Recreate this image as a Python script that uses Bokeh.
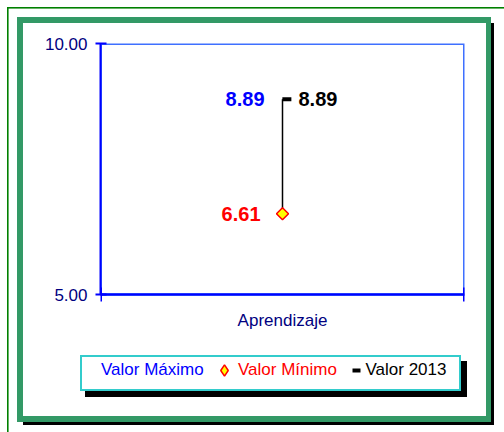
from bokeh.plotting import figure
from bokeh.models import (Range1d, FactorRange, LinearAxis, FixedTicker, PrintfTickFormatter,
                          Legend, LegendItem, ColumnDataSource, BoxAnnotation, Span)
from bokeh.transform import dodge
from bokeh.core.properties import value
from bokeh.embed import file_html
from bokeh.resources import INLINE

# ---- data ----
categories = ["Aprendizaje"]
valor_maximo = [8.89]
valor_minimo = [6.61]
valor_2013 = [8.89]
y_ticks = [5, 10]
y_limits = (5, 10)
series_names = ["Valor Máximo", "Valor Mínimo", "Valor 2013"]

FONT = "Liberation Sans"
NAVY = "#000080"
AXIS_BLUE = "#0000ff"
BLUE = "#0000ff"
RED = "#ff0000"
SEA = "#339966"
TURQ = "#33cccc"

# layout (pixels)
W, H = 504, 432
PLOT_TOP, PLOT_BOTTOM = 43, 294      # where y_limits map
FRAME_BOTTOM = 395                   # frame extended to hold the legend row
FRAME_LEFT, FRAME_RIGHT = 100, 464
px_per_unit = (PLOT_BOTTOM - PLOT_TOP) / (y_limits[1] - y_limits[0])
y_start = y_limits[0] - (FRAME_BOTTOM - PLOT_BOTTOM) / px_per_unit
tick_len = 7 / px_per_unit

src = ColumnDataSource(dict(
    cat=categories, vmax=valor_maximo, vmin=valor_minimo, v2013=valor_2013,
    base=[y_limits[0]] * len(categories),
    tick_lo=[y_limits[0] - tick_len] * len(categories),
    tick_hi=[y_limits[0] + tick_len] * len(categories),
    tmax=[f"{v:.2f}" for v in valor_maximo],
    tmin=[f"{v:.2f}" for v in valor_minimo],
    t2013=[f"{v:.2f}" for v in valor_2013],
))


def rect(color, x, y, w, h):
    return f"linear-gradient({color},{color}) {x}px {y}px / {w}px {h}px no-repeat"


LX = 19  # legend shift so that it sits inside the drawing frame
layers = [
    rect("#ffffff", 63 + LX, 357, 377, 32),      # legend interior
    rect(TURQ, 61 + LX, 355, 381, 36),           # legend border
    rect("#000000", 66 + LX, 361, 382, 36),      # legend shadow
    rect("#ffffff", 23, 23, 463, 393),           # frame interior
    rect(SEA, 17, 17, 474, 405),                 # thick green frame
    rect("#000000", 23, 23, 471, 402),           # frame shadow
    rect("#008000", 7, 7, 497, 1.6),             # thin outer line (top)
    rect("#008000", 7, 7, 1.6, 425),             # thin outer line (left)
]

p = figure(width=W, height=H, x_range=FactorRange(factors=categories),
           y_range=Range1d(y_start, y_limits[1]), output_backend="svg", toolbar_location=None,
           x_axis_location=None, y_axis_location=None,
           min_border_left=FRAME_LEFT, min_border_right=W - FRAME_RIGHT,
           min_border_top=PLOT_TOP, min_border_bottom=H - FRAME_BOTTOM,
           styles={"background": ", ".join(layers)})
p.grid.visible = False
p.outline_line_color = None
p.background_fill_alpha = 0
p.border_fill_alpha = 0

y_axis = LinearAxis(ticker=FixedTicker(ticks=y_ticks), formatter=PrintfTickFormatter(format="%.2f"),
                    bounds=y_limits,
                    axis_line_color=AXIS_BLUE, axis_line_width=2,
                    major_tick_line_color=AXIS_BLUE, major_tick_line_width=2,
                    major_tick_in=6, major_tick_out=5, minor_tick_line_color=None,
                    major_label_standoff=8, major_label_text_font=FONT,
                    major_label_text_font_size="17px", major_label_text_color=NAVY)
p.add_layout(y_axis, "left")

# plot-area border and category baseline
p.add_layout(BoxAnnotation(bottom=y_limits[0], top=y_limits[1], fill_alpha=0,
                           line_color="#3f70ff", line_width=3, line_alpha=1, level="underlay"))
p.add_layout(Span(location=y_limits[0], dimension="width", line_color=AXIS_BLUE, line_width=2))

# category edge ticks and category label under the baseline
for edge in (-0.5, 0.5):
    ex = dodge("cat", edge, range=p.x_range)
    p.segment(x0=ex, y0="tick_lo", x1=ex, y1="tick_hi", source=src,
              line_color=AXIS_BLUE, line_width=3)
p.text(x="cat", y="base", text="cat", source=src, text_color=NAVY, text_font=value(FONT),
       text_font_size="17px", text_align="center", text_baseline="top", y_offset=16)

# ---- glyphs ----
p.segment(x0="cat", y0="vmin", x1="cat", y1="vmax", source=src, line_color="black", line_width=1.5)

r_max = p.text(x="cat", y="vmax", text="tmax", source=src, text_color=BLUE,
               text_font=value(FONT), text_font_size="20px", text_font_style="bold",
               text_align="right", text_baseline="middle", x_offset=-18)

p.scatter(x="cat", y="vmin", source=src, marker="square", angle=0.785398, size=8.5,
          fill_color="#ffff00", line_color=RED, line_width=1.5)
# legend swatch for the minimum (legend glyphs ignore marker rotation)
r_min_leg = p.scatter(x="cat", y="vmin", source=src, marker="diamond", size=12,
                      fill_color="#ffff00", line_color=RED, line_width=1.5, visible=False)
p.text(x="cat", y="vmin", text="tmin", source=src, text_color=RED,
       text_font=value(FONT), text_font_size="20px", text_font_style="bold",
       text_align="right", text_baseline="middle", x_offset=-22)

r_2013 = p.scatter(x=dodge("cat", 0.012, range=p.x_range), y="v2013", source=src,
                   marker="dash", size=9, line_color="black", line_width=4)
p.text(x="cat", y="v2013", text="t2013", source=src, text_color="black",
       text_font=value(FONT), text_font_size="20px", text_font_style="bold",
       text_align="left", text_baseline="middle", x_offset=16)


def mk_legend(label, renderers, color, loc, standoff, g=20):
    lg = Legend(items=[LegendItem(label=value(label), renderers=renderers)], location=loc,
                orientation="horizontal", glyph_width=g, glyph_height=g,
                label_standoff=standoff, padding=0, margin=0, spacing=0,
                border_line_color=None, background_fill_alpha=0,
                label_text_font=FONT, label_text_font_size="17px",
                label_text_color=color, label_height=g)
    p.add_layout(lg, "center")


mk_legend(series_names[0], [r_max], BLUE, (-24, 15), 5)
mk_legend(series_names[1], [r_min_leg], RED, (110, 11), -5, g=28)
mk_legend(series_names[2], [r_2013], "black", (245.5, 15), -7)

open("out.html", "w").write(file_html(p, INLINE))
